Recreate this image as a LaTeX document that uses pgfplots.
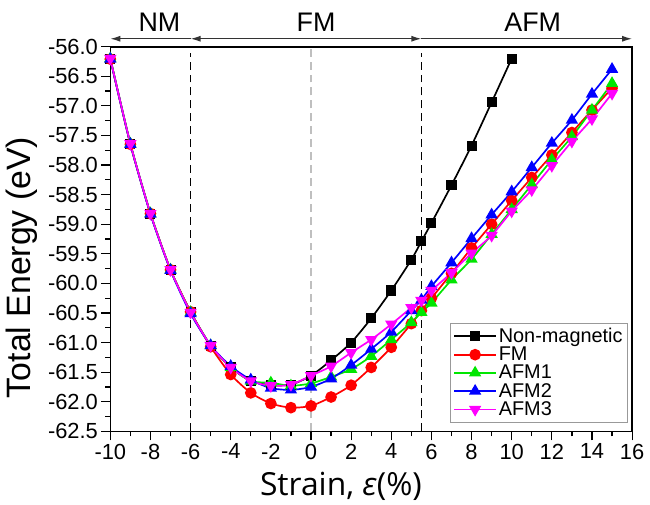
\documentclass[border=0pt]{standalone}
\usepackage{fontspec}
\setmainfont{Liberation Sans}
\newfontfamily\osans{Open Sans}
\usepackage{pgfplots}
\usepackage{pgfplotstable}
\pgfplotsset{compat=1.18}
\usetikzlibrary{arrows.meta}

\pgfplotstableread{
x y
-10 -56.20
-9 -57.64
-8 -58.82
-7 -59.77
-6 -60.48
-5 -61.05
-4 -61.42
-3 -61.65
-2 -61.72
-1 -61.71
0 -61.56
1 -61.30
2 -61.00
3 -60.59
4 -60.12
5 -59.60
5.5 -59.29
6 -58.98
7 -58.34
8 -57.67
9 -56.94
10 -56.20
}\nmdata

\pgfplotstableread{
x y
-10 -56.21
-9 -57.65
-8 -58.82
-7 -59.77
-6 -60.48
-5 -61.07
-4 -61.54
-3 -61.85
-2 -62.03
-1 -62.10
0 -62.07
1 -61.92
2 -61.72
3 -61.42
4 -61.08
5 -60.68
5.5 -60.46
6 -60.25
7 -59.83
8 -59.40
9 -59.00
10 -58.60
11 -58.21
12 -57.83
13 -57.45
14 -57.07
15 -56.70
}\fmdata

\pgfplotstableread{
x y
-10 -56.20
-9 -57.64
-8 -58.82
-7 -59.77
-6 -60.49
-5 -61.05
-4 -61.42
-3 -61.65
-2 -61.68
-1 -61.73
0 -61.69
1 -61.58
2 -61.45
3 -61.23
4 -60.95
5 -60.66
5.5 -60.49
6 -60.33
7 -59.94
8 -59.59
9 -59.17
10 -58.75
11 -58.33
12 -57.91
13 -57.52
14 -57.07
15 -56.62
}\afmonedata

\pgfplotstableread{
x y
-10 -56.21
-9 -57.65
-8 -58.83
-7 -59.78
-6 -60.51
-5 -61.05
-4 -61.40
-3 -61.63
-2 -61.77
-1 -61.80
0 -61.75
1 -61.61
2 -61.38
3 -61.11
4 -60.82
5 -60.46
5.5 -60.28
6 -60.05
7 -59.65
8 -59.24
9 -58.84
10 -58.45
11 -58.04
12 -57.63
13 -57.24
14 -56.80
15 -56.38
}\afmtwodata

\pgfplotstableread{
x y
-10 -56.20
-9 -57.64
-8 -58.82
-7 -59.77
-6 -60.49
-5 -61.05
-4 -61.42
-3 -61.65
-2 -61.73
-1 -61.71
0 -61.56
1 -61.40
2 -61.17
3 -60.95
4 -60.69
5 -60.41
5.5 -60.29
6 -60.12
7 -59.82
8 -59.49
9 -59.19
10 -58.78
11 -58.42
12 -58.01
13 -57.60
14 -57.22
15 -56.79
}\afmthreedata

\definecolor{cgreen}{RGB}{0,230,0}
\definecolor{cmag}{RGB}{255,0,255}

\begin{document}
\begin{tikzpicture}
\useasboundingbox (-111pt,-74pt) rectangle (543pt,434pt);
\begin{axis}[
  name=ax, at={(0pt,0pt)}, anchor=south west,
  scale only axis, width=525pt, height=387pt,
  xmin=-10, xmax=16, ymin=-62.5, ymax=-56.0,
  xtick distance=2, ytick distance=0.5,
  minor x tick num=1, minor y tick num=1,
  xtick pos=lower, ytick pos=lower,
  tick align=outside,
  major tick length=9pt, minor tick length=5pt,
  every tick/.style={black, line width=1.2pt},
  axis line style={line width=1.6pt},
  /pgf/number format/assume math mode=true,
  yticklabel style={/pgf/number format/fixed, /pgf/number format/fixed zerofill, /pgf/number format/precision=1, font=\fontsize{22}{26}\selectfont},
  xticklabel style={font=\fontsize{22}{26}\selectfont},
  ylabel={Total Energy (eV)},
  ylabel style={font=\fontsize{34}{40}\selectfont, at={(axis description cs:-0.170,0.426)}, anchor=center},
  xlabel={\osans Strain, \textit{ε}(\%)},
  xlabel style={font=\fontsize{32}{38}\selectfont, at={(axis description cs:0.442,-0.142)}, anchor=center},
  clip=false,
  legend style={at={(axis description cs:0.992,0.023)}, anchor=south east, font=\fontsize{20}{24}\selectfont, draw=gray!80, line width=0.8pt, inner sep=3pt, row sep=-1pt, cells={anchor=west}},
  legend image code/.code={\draw[mark repeat=2, mark phase=2] plot coordinates {(0pt,0pt) (21pt,0pt) (42pt,0pt)};},
]
\addplot[black, line width=1.7pt, mark=square*, mark size=4.2pt, mark options={solid}, smooth, tension=0.4] table {\nmdata};
\addlegendentry{Non-magnetic}
\addplot[red, line width=1.7pt, mark=*, mark size=5pt, mark options={solid}, smooth, tension=0.4] table {\fmdata};
\addlegendentry{FM}
\addplot[cgreen, line width=1.7pt, mark=triangle*, mark size=5.5pt, mark options={solid}, smooth, tension=0.4] table {\afmonedata};
\addlegendentry{AFM1}
\addplot[blue, line width=1.7pt, mark=triangle*, mark size=5.5pt, mark options={solid}, smooth, tension=0.4] table {\afmtwodata};
\addlegendentry{AFM2}
\addplot[cmag, line width=1.7pt, mark=triangle*, mark size=5.5pt, mark options={solid, rotate=180}, smooth, tension=0.4] table {\afmthreedata};
\addlegendentry{AFM3}

\addplot[forget plot, black, line width=1.6pt, dash pattern=on 8pt off 5pt] coordinates {(-6,-62.5) (-6,-56.1)};
\addplot[forget plot, black, line width=1.6pt, dash pattern=on 8pt off 5pt] coordinates {(5.5,-62.5) (5.5,-56.1)};
\addplot[forget plot, gray!50, line width=1.6pt, dash pattern=on 8pt off 5pt] coordinates {(0,-62.5) (0,-56.0)};

\draw[{Latex[length=10pt,width=6pt]}-, line width=1.2pt, black!80] ([yshift=8pt]axis cs:-10,-56) -- ([yshift=8pt]axis cs:-6,-56);
\draw[{Latex[length=10pt,width=6pt]}-{Latex[length=10pt,width=6pt]}, line width=1.2pt, black!80] ([yshift=8pt]axis cs:-6,-56) -- ([yshift=8pt]axis cs:5.5,-56);
\draw[-{Latex[length=10pt,width=6pt]}, line width=1.2pt, black!80] ([yshift=8pt]axis cs:5.5,-56) -- ([yshift=8pt]axis cs:16,-56);
\node[font=\fontsize{27}{30}\selectfont] at ([yshift=25pt]axis cs:-7.55,-56) {NM};
\node[font=\fontsize{27}{30}\selectfont] at ([yshift=25pt]axis cs:0.25,-56) {FM};
\node[font=\fontsize{27}{30}\selectfont] at ([yshift=25pt]axis cs:11.05,-56) {AFM};
\end{axis}
\end{tikzpicture}
\end{document}
